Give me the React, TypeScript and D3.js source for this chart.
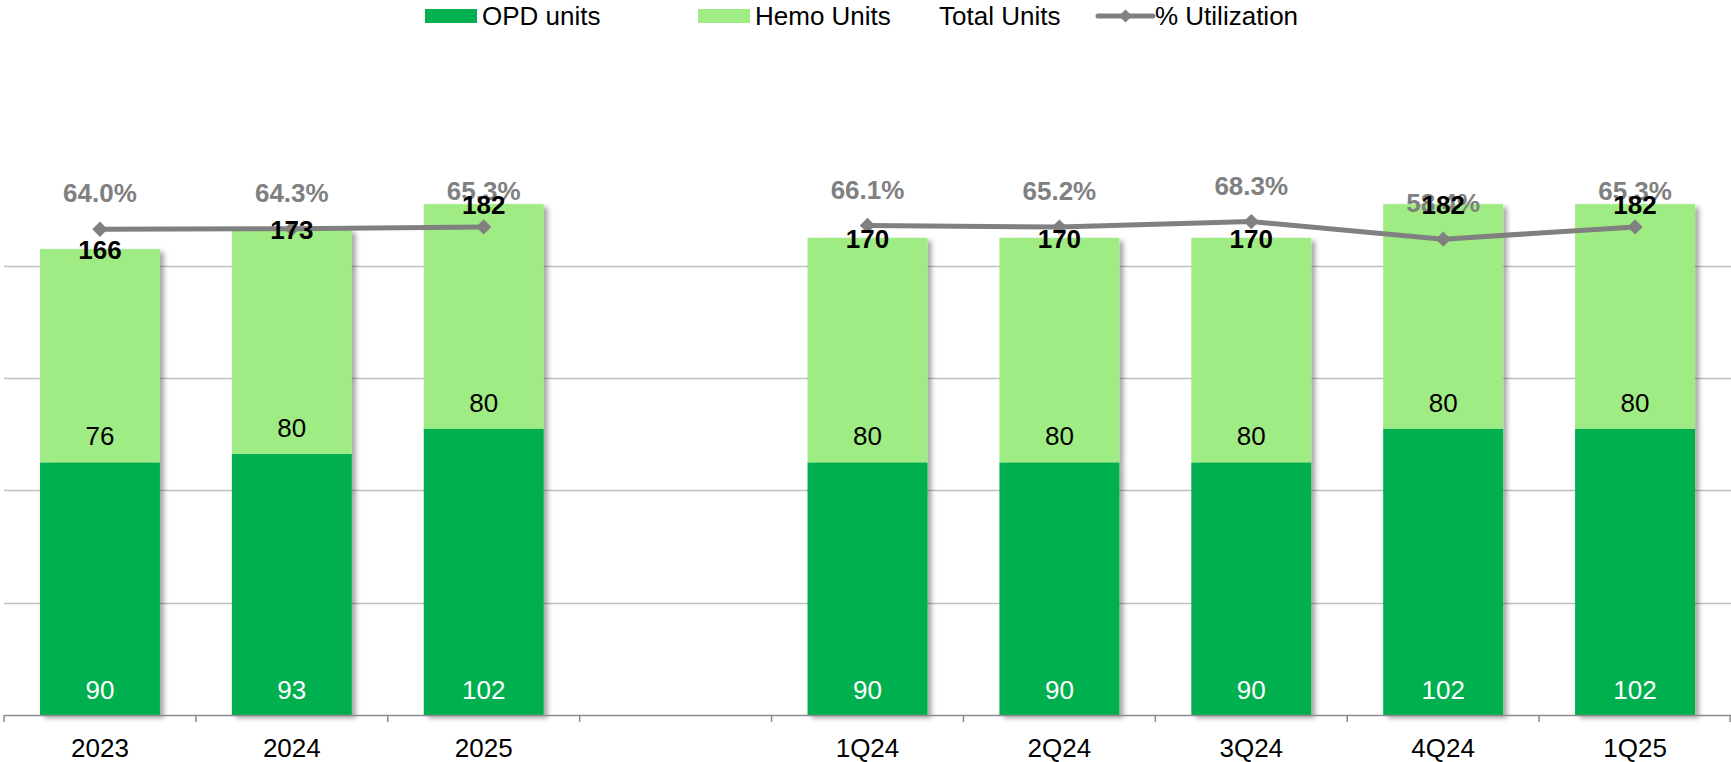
import { useRef, useEffect } from "react";
import * as d3 from "d3";

const categories = ["2023", "2024", "2025", " ", "1Q24", "2Q24", "3Q24", "4Q24", "1Q25"];
const opdUnits = [90, 93, 102, null, 90, 90, 90, 102, 102];
const hemoUnits = [76, 80, 80, null, 80, 80, 80, 80, 80];
const totalUnits = [166, 173, 182, null, 170, 170, 170, 182, 182];
const utilization = [64.0, 64.3, 65.3, null, 66.1, 65.2, 68.3, 58.4, 65.3];
const gridValues = [40, 80, 120, 160];

const W = 1731;
const H = 762;
const FONT = "'Liberation Sans', Arial, Helvetica, sans-serif";
const OPD_COLOR = "#00B050";
const HEMO_COLOR = "#A0EC84";
const LINE_COLOR = "#808080";

const App = () => {
  const svgRef = useRef<SVGSVGElement | null>(null);

  useEffect(() => {
    const svg = d3.select(svgRef.current);
    svg.selectAll("*").remove();

    const left = 4;
    const right = W;
    const bottom = 715;

    const x = d3
      .scaleBand<string>()
      .domain(categories)
      .range([left, right])
      .paddingInner(0.375)
      .paddingOuter(0.1875);

    const y = d3.scaleLinear().domain([0, 240]).range([bottom, 41.3]);
    const y2 = d3.scaleLinear().domain([-210, 170]).range([bottom, 41.3]);

    const rows = categories.map((c, i) => ({
      cat: c,
      opd: opdUnits[i],
      hemo: hemoUnits[i],
      total: totalUnits[i],
      util: utilization[i],
    }));
    const filled = rows.filter((d) => d.opd != null);

    // shadow for bars
    const defs = svg.append("defs");
    const f = defs
      .append("filter")
      .attr("id", "shadow")
      .attr("x", "-10%")
      .attr("y", "-10%")
      .attr("width", "130%")
      .attr("height", "130%");
    f.append("feDropShadow")
      .attr("dx", 4)
      .attr("dy", 3)
      .attr("stdDeviation", 2.5)
      .attr("flood-color", "#000")
      .attr("flood-opacity", 0.35);

    // gridlines
    svg
      .append("g")
      .selectAll("line")
      .data(gridValues)
      .join("line")
      .attr("x1", left)
      .attr("x2", right)
      .attr("y1", (d) => Math.round(y(d)) + 0.5)
      .attr("y2", (d) => Math.round(y(d)) + 0.5)
      .attr("stroke", "#C0C0C0")
      .attr("stroke-width", 1.5);

    // bars
    const bars = svg.append("g").attr("filter", "url(#shadow)");
    bars
      .selectAll("rect.opd")
      .data(filled)
      .join("rect")
      .attr("class", "opd")
      .attr("x", (d) => x(d.cat)!)
      .attr("width", x.bandwidth())
      .attr("y", (d) => y(d.opd!))
      .attr("height", (d) => y(0) - y(d.opd!))
      .attr("fill", OPD_COLOR);
    bars
      .selectAll("rect.hemo")
      .data(filled)
      .join("rect")
      .attr("class", "hemo")
      .attr("x", (d) => x(d.cat)!)
      .attr("width", x.bandwidth())
      .attr("y", (d) => y(d.opd! + d.hemo!))
      .attr("height", (d) => y(d.opd!) - y(d.opd! + d.hemo!))
      .attr("fill", HEMO_COLOR);

    // x axis
    const axis = svg.append("g");
    axis
      .append("line")
      .attr("x1", left)
      .attr("x2", right)
      .attr("y1", bottom + 0.5)
      .attr("y2", bottom + 0.5)
      .attr("stroke", "#8C8C8C")
      .attr("stroke-width", 1.5);
    const step = x.step();
    axis
      .selectAll("line.tick")
      .data(d3.range(categories.length + 1))
      .join("line")
      .attr("class", "tick")
      .attr("x1", (i) => Math.min(left + i * step, right - 1))
      .attr("x2", (i) => Math.min(left + i * step, right - 1))
      .attr("y1", bottom)
      .attr("y2", bottom + 7)
      .attr("stroke", "#8C8C8C")
      .attr("stroke-width", 1.5);
    axis
      .selectAll("text")
      .data(categories)
      .join("text")
      .attr("x", (d) => x(d)! + x.bandwidth() / 2)
      .attr("y", 757)
      .attr("text-anchor", "middle")
      .attr("font-family", FONT)
      .attr("font-size", 26)
      .attr("fill", "#000")
      .text((d) => d.trim());

    const cx = (d: { cat: string }) => x(d.cat)! + x.bandwidth() / 2;

    // segment labels (inside base)
    svg
      .append("g")
      .selectAll("text")
      .data(filled)
      .join("text")
      .attr("x", cx)
      .attr("y", y(0) - 25 + 9)
      .attr("text-anchor", "middle")
      .attr("font-family", FONT)
      .attr("font-size", 26)
      .attr("fill", "#fff")
      .text((d) => d.opd!);
    svg
      .append("g")
      .selectAll("text")
      .data(filled)
      .join("text")
      .attr("x", cx)
      .attr("y", (d) => y(d.opd!) - 26 + 9)
      .attr("text-anchor", "middle")
      .attr("font-family", FONT)
      .attr("font-size", 26)
      .attr("fill", "#000")
      .text((d) => d.hemo!);

    // utilization line
    const line = d3
      .line<(typeof rows)[number]>()
      .defined((d) => d.util != null)
      .x(cx)
      .y((d) => y2(d.util!));
    svg
      .append("path")
      .datum(rows)
      .attr("d", line)
      .attr("fill", "none")
      .attr("stroke", LINE_COLOR)
      .attr("stroke-width", 5)
      .attr("stroke-linejoin", "round");
    svg
      .append("g")
      .selectAll("path")
      .data(filled)
      .join("path")
      .attr("d", d3.symbol(d3.symbolDiamond2, 150)())
      .attr("transform", (d) => `translate(${cx(d)},${y2(d.util!)})`)
      .attr("fill", LINE_COLOR);

    svg
      .append("g")
      .selectAll("text")
      .data(filled)
      .join("text")
      .attr("x", cx)
      .attr("y", (d) => y2(d.util!) - 36 + 9)
      .attr("text-anchor", "middle")
      .attr("font-family", FONT)
      .attr("font-size", 26)
      .attr("font-weight", "bold")
      .attr("fill", LINE_COLOR)
      .text((d) => `${d.util!.toFixed(1)}%`);

    // total labels
    svg
      .append("g")
      .selectAll("text")
      .data(filled)
      .join("text")
      .attr("x", cx)
      .attr("y", (d) => y(d.total!) + 1 + 9)
      .attr("text-anchor", "middle")
      .attr("font-family", FONT)
      .attr("font-size", 26)
      .attr("font-weight", "bold")
      .attr("fill", "#000")
      .text((d) => d.total!);

    // legend
    const legend = svg.append("g").attr("font-family", FONT).attr("font-size", 26);
    const items = [
      { label: "OPD units", kind: "rect", color: OPD_COLOR, x: 425 },
      { label: "Hemo Units", kind: "rect", color: HEMO_COLOR, x: 698 },
      { label: "Total Units", kind: "none", color: "none", x: 882 },
      { label: "% Utilization", kind: "line", color: LINE_COLOR, x: 1098 },
    ];
    items.forEach((it) => {
      const g = legend.append("g").attr("transform", `translate(${it.x},0)`);
      if (it.kind === "rect") {
        g.append("rect").attr("x", 0).attr("y", 9).attr("width", 52).attr("height", 14).attr("fill", it.color);
      } else if (it.kind === "line") {
        g.append("line")
          .attr("x1", 0)
          .attr("x2", 55)
          .attr("y1", 16)
          .attr("y2", 16)
          .attr("stroke", it.color)
          .attr("stroke-width", 5)
          .attr("stroke-linecap", "round");
        g.append("path")
          .attr("d", d3.symbol(d3.symbolDiamond2, 110)())
          .attr("transform", "translate(27.5,16)")
          .attr("fill", it.color);
      }
      g.append("text").attr("x", 57).attr("y", 25).attr("fill", "#000").text(it.label);
    });
  }, []);

  return (
    <svg
      ref={svgRef}
      width={W}
      height={H}
      style={{ position: "absolute", left: 0, top: 0, background: "#fff" }}
    />
  );
};

export default App;
